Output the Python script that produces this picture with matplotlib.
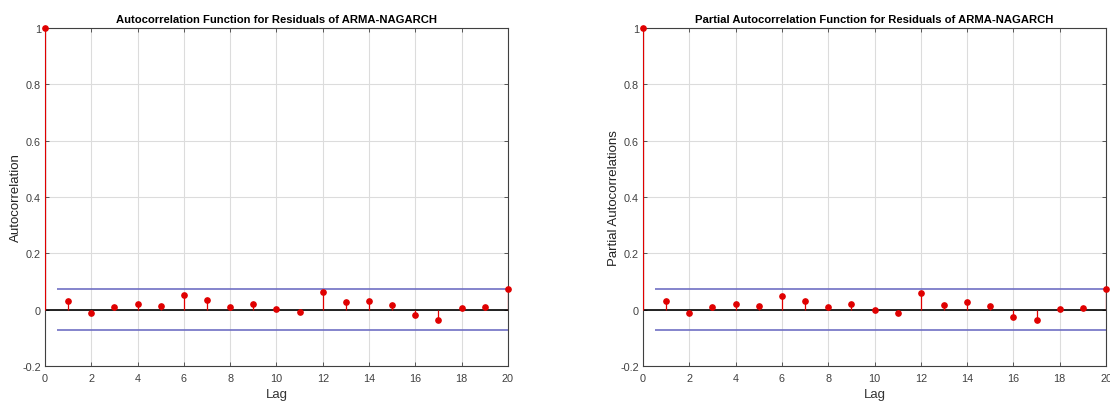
import matplotlib
matplotlib.use("Agg")
import matplotlib.pyplot as plt
import numpy as np

lags = list(range(0, 21))
acf_vals = [1.0, 0.032, -0.011, 0.0095, 0.020, 0.014, 0.051, 0.036, 0.011, 0.021, 0.001,
            -0.008, 0.063, 0.026, 0.030, 0.017, -0.020, -0.036, 0.007, 0.011, 0.075]
pacf_vals = [1.0, 0.032, -0.011, 0.0095, 0.019, 0.013, 0.050, 0.032, 0.0095, 0.019, -0.001,
             -0.011, 0.060, 0.017, 0.026, 0.013, -0.026, -0.036, 0.001, 0.005, 0.075]
bound = 0.0735
bound_start = 0.5

titles = ["Autocorrelation Function for Residuals of ARMA-NAGARCH",
          "Partial Autocorrelation Function for Residuals of ARMA-NAGARCH"]
ylabels = ["Autocorrelation", "Partial Autocorrelations"]
xticks = [0, 2, 4, 6, 8, 10, 12, 14, 16, 18, 20]
yticks = [-0.2, 0, 0.2, 0.4, 0.6, 0.8, 1]
yticklabels = ["-0.2", "0", "0.2", "0.4", "0.6", "0.8", "1"]

plt.rcParams['font.family'] = ['Liberation Sans', 'DejaVu Sans']

fig = plt.figure(figsize=(11.1, 4.06), dpi=100)
positions = [[0.0405, 0.0961, 0.4171, 0.8325], [0.5793, 0.0961, 0.4171, 0.8325]]

for pos, vals, title, ylab in zip(positions, [acf_vals, pacf_vals], titles, ylabels):
    ax = fig.add_axes(pos)
    ax.set_xlim(0, 20)
    ax.set_ylim(-0.2, 1)
    ax.grid(True, color='#dcdcdc', linewidth=0.8)
    ax.set_axisbelow(True)
    ax.vlines(lags, 0, vals, color='#e00000', linewidth=0.9, zorder=3)
    ax.plot(lags, vals, 'o', color='#e00000', markersize=3.8, zorder=4, clip_on=False)
    ax.axhline(0, color='black', linewidth=1.2, zorder=2.5)
    ax.hlines([bound, -bound], bound_start, 20, color='#6f6fc4', linewidth=1.2, zorder=2.5)
    ax.set_xticks(xticks)
    ax.set_yticks(yticks)
    ax.set_yticklabels(yticklabels)
    ax.tick_params(direction='in', top=True, right=True, labelsize=7.8,
                   labelcolor='#404040', color='#404040', length=3, width=0.6)
    ax.tick_params(axis='x', pad=5)
    ax.tick_params(axis='y', pad=3)
    for s in ax.spines.values():
        s.set_color('#404040')
        s.set_linewidth(0.8)
    ax.set_title(title, fontsize=8.1, fontweight='bold', pad=4.5)
    ax.set_xlabel("Lag", fontsize=9.5, color='#333333', labelpad=4)
    ax.set_ylabel(ylab, fontsize=9.5, color='#222222', labelpad=0)

fig.savefig("out.png", dpi=100)
